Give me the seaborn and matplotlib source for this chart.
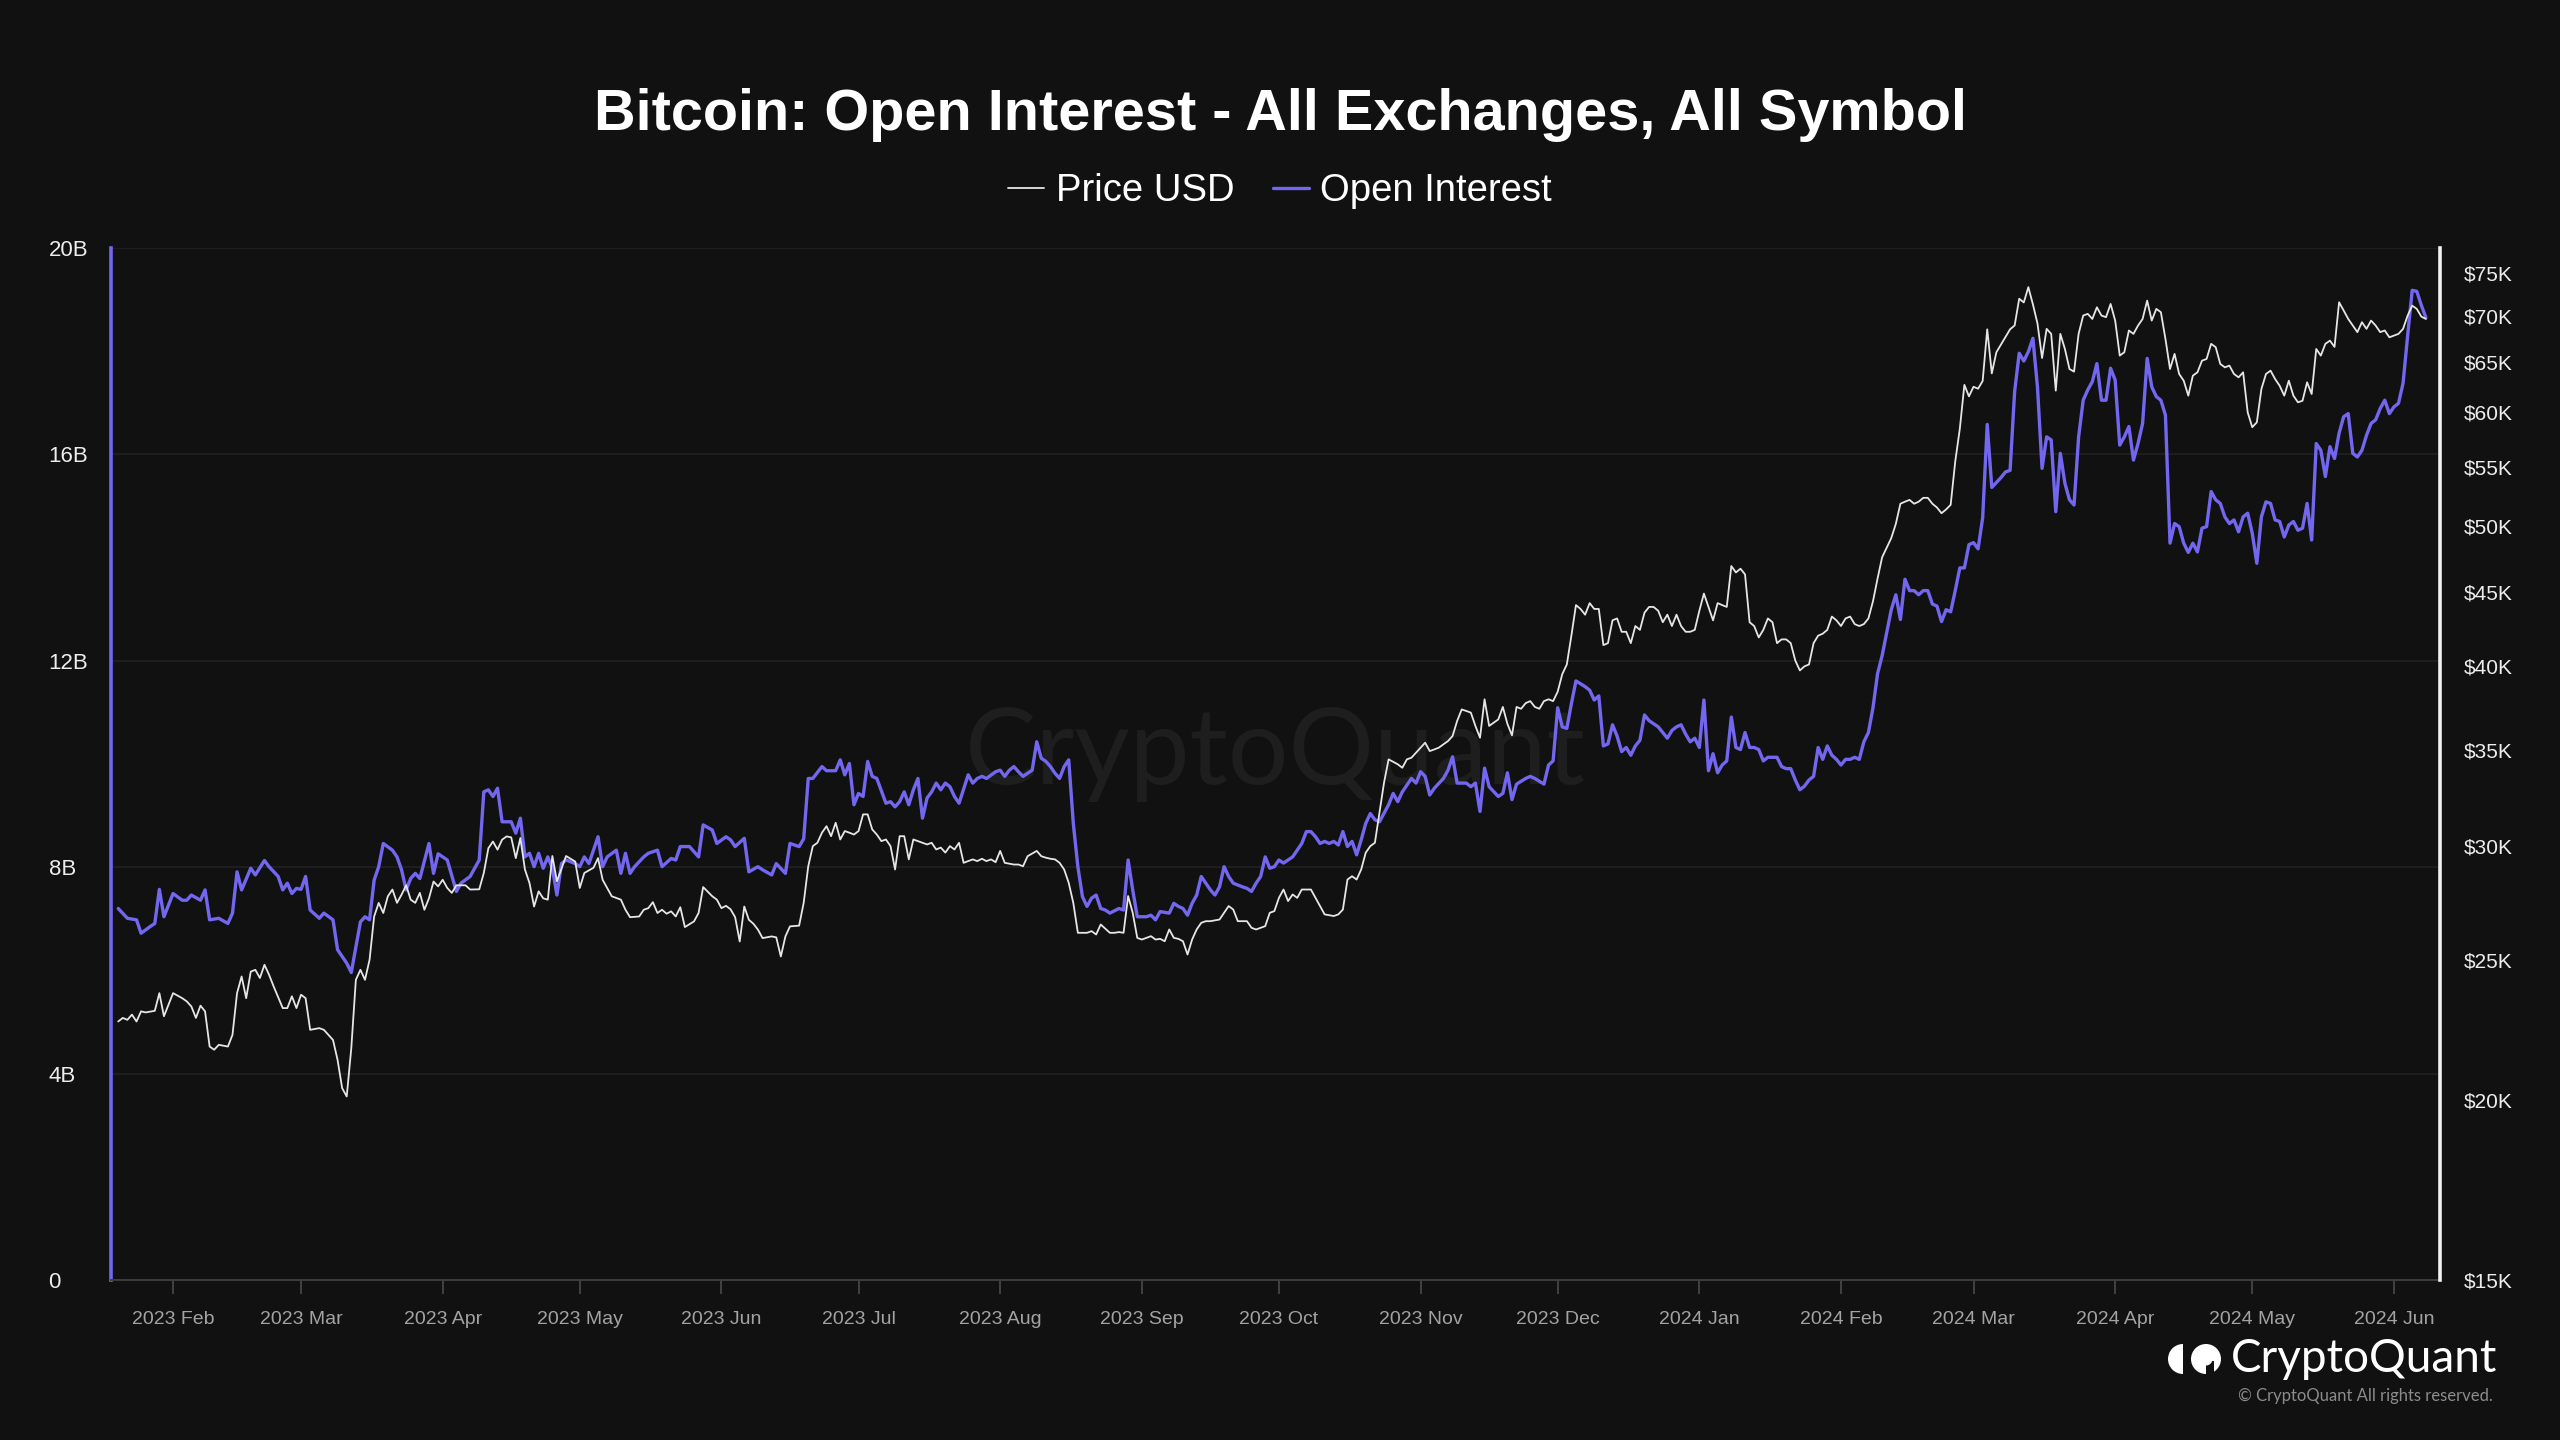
import numpy as np
import pandas as pd
import matplotlib
matplotlib.use("Agg")
import matplotlib.pyplot as plt
import matplotlib.ticker as mticker
import matplotlib.dates as mdates
from matplotlib.patches import Wedge, Circle, Rectangle
import seaborn as sns

# ---------------- data ----------------
BASE_DATE = "2023-02-01"          # day offsets below are days since this date
TITLE = "Bitcoin: Open Interest - All Exchanges, All Symbol"
SERIES_NAMES = ["Price USD", "Open Interest"]
OI_TICKS = [0, 4, 8, 12, 16, 20]                      # billions
PRICE_TICKS = [15, 20, 25, 30, 35, 40, 45, 50, 55, 60, 65, 70, 75]   # thousand USD

# Open interest (day offset, billions USD)
oi_points = [
    (-12,7.20),(-10,7.01),(-8,6.98),(-7,6.72),(-5,6.85),(-4,6.91),(-3,7.57),(-2,7.04),(0,7.49),(2,7.36),
    (3,7.36),(4,7.46),(6,7.36),(7,7.56),(8,6.98),(10,7.01),(12,6.91),(13,7.11),(14,7.91),(15,7.56),
    (17,7.98),(18,7.85),(20,8.13),(21,8.01),(23,7.82),(24,7.56),(25,7.69),(26,7.49),(27,7.59),(28,7.57),
    (29,7.82),(30,7.17),(32,7.01),(33,7.11),(35,6.98),(36,6.40),(38,6.14),(39,5.96),(41,6.94),(42,7.04),
    (43,6.98),(44,7.75),(45,8.01),(46,8.46),(48,8.33),(49,8.20),(50,7.95),(51,7.56),(52,7.78),(53,7.88),
    (54,7.78),(56,8.46),(57,7.88),(58,8.26),(60,8.14),(62,7.53),(63,7.69),(65,7.82),(66,7.98),(67,8.14),
    (68,9.46),(69,9.50),(70,9.37),(71,9.53),(72,8.88),(74,8.88),(75,8.66),(76,8.95),(77,8.20),(78,8.27),
    (79,8.01),(80,8.27),(81,7.98),(82,8.20),(83,7.98),(84,7.46),(85,8.07),(86,8.14),(88,8.07),(89,8.01),
    (90,8.20),(91,8.07),(93,8.59),(94,8.01),(95,8.20),(97,8.33),(98,7.88),(99,8.27),(100,7.88),(101,8.01),
    (103,8.20),(104,8.27),(106,8.33),(107,8.01),(109,8.17),(110,8.14),(111,8.40),(113,8.40),(115,8.20),(116,8.82),
    (118,8.72),(119,8.46),(121,8.59),(122,8.53),(123,8.40),(125,8.56),(126,7.91),(128,8.01),(129,7.95),(131,7.85),
    (132,8.07),(134,7.88),(135,8.46),(137,8.40),(138,8.55),(139,9.72),(140,9.72),(142,9.95),(143,9.87),(145,9.87),
    (146,10.08),(147,9.79),(148,10.01),(149,9.21),(150,9.43),(151,9.37),(152,10.05),(153,9.76),(154,9.72),(156,9.24),
    (157,9.27),(158,9.17),(159,9.27),(160,9.46),(161,9.21),(162,9.50),(163,9.72),(164,8.95),(165,9.34),(166,9.46),
    (167,9.63),(168,9.50),(169,9.63),(170,9.56),(171,9.37),(172,9.24),(174,9.79),(175,9.63),(176,9.72),(177,9.76),
    (178,9.72),(180,9.85),(181,9.88),(182,9.76),(183,9.88),(184,9.95),(185,9.85),(186,9.76),(188,9.88),(189,10.43),
    (190,10.11),(191,10.05),(192,9.95),(193,9.82),(194,9.72),(195,9.95),(196,10.08),(197,8.85),(198,8.01),(199,7.43),
    (200,7.24),(201,7.40),(202,7.46),(203,7.20),(204,7.17),(205,7.11),(207,7.20),(208,7.17),(209,8.14),(210,7.56),
    (211,7.04),(213,7.04),(214,7.07),(215,6.98),(216,7.14),(218,7.11),(219,7.30),(220,7.24),(221,7.20),(222,7.07),
    (223,7.30),(224,7.46),(225,7.82),(227,7.56),(228,7.46),(229,7.62),(230,8.01),(231,7.82),(232,7.69),(234,7.62),
    (235,7.59),(236,7.53),(237,7.69),(238,7.82),(239,8.20),(240,7.98),(241,8.01),(242,8.14),(243,8.08),(245,8.20),
    (246,8.33),(247,8.46),(248,8.69),(249,8.69),(250,8.59),(251,8.46),(252,8.50),(253,8.46),(254,8.50),(255,8.43),
    (256,8.69),(257,8.40),(258,8.50),(259,8.24),(260,8.53),(261,8.85),(262,9.04),(263,8.92),(264,8.88),(266,9.21),
    (267,9.43),(268,9.27),(269,9.46),(271,9.72),(272,9.63),(273,9.85),(274,9.76),(275,9.40),(276,9.53),(278,9.72),
    (279,9.88),(280,10.14),(281,9.63),(283,9.63),(284,9.56),(285,9.63),(286,9.08),(287,9.92),(288,9.56),(290,9.37),
    (291,9.43),(292,9.83),(293,9.31),(294,9.61),(296,9.72),(297,9.76),(298,9.72),(300,9.61),(301,9.98),(302,10.06),
    (303,11.09),(304,10.72),(305,10.69),(306,11.17),(307,11.61),(309,11.50),(310,11.43),(311,11.24),(312,11.32),(313,10.35),
    (314,10.39),(315,10.76),(316,10.54),(317,10.24),(318,10.32),(319,10.17),(320,10.35),(321,10.46),(322,10.95),(323,10.84),
    (325,10.72),(326,10.61),(327,10.50),(328,10.65),(329,10.72),(330,10.76),(331,10.58),(332,10.43),(333,10.50),(334,10.32),
    (335,11.24),(336,9.87),(337,10.20),(338,9.83),(339,9.98),(340,10.06),(341,10.91),(342,10.32),(343,10.28),(344,10.61),
    (345,10.32),(346,10.32),(347,10.28),(348,10.06),(349,10.13),(351,10.13),(352,9.95),(353,9.91),(354,9.91),(355,9.69),
    (356,9.50),(357,9.57),(358,9.69),(359,9.76),(360,10.32),(361,10.09),(362,10.35),(363,10.17),(364,10.09),(365,9.98),
    (366,10.09),(367,10.09),(368,10.13),(369,10.09),(370,10.43),(371,10.61),(372,11.09),(373,11.75),(374,12.10),(375,12.54),
    (376,12.99),(377,13.28),(378,12.80),(379,13.58),(380,13.36),(381,13.36),(382,13.28),(383,13.36),(384,13.36),(385,13.10),
    (386,13.06),(387,12.76),(388,12.99),(389,12.95),(390,13.36),(391,13.80),(392,13.80),(393,14.25),(394,14.29),(395,14.17),
    (396,14.77),(397,16.58),(398,15.36),(400,15.55),(401,15.66),(402,15.69),(403,17.22),(404,17.96),(405,17.81),(406,17.99),
    (407,18.25),(408,17.30),(409,15.73),(410,16.34),(411,16.28),(412,14.89),(413,16.02),(414,15.44),(415,15.12),(416,15.02),
    (417,16.34),(418,17.05),(419,17.25),(420,17.41),(421,17.76),(422,17.05),(423,17.05),(424,17.67),(425,17.44),(426,16.18),
    (427,16.34),(428,16.54),(429,15.89),(430,16.21),(431,16.60),(432,17.86),(433,17.31),(434,17.12),(435,17.05),(436,16.76),
    (437,14.28),(438,14.66),(439,14.60),(440,14.28),(441,14.10),(442,14.28),(443,14.11),(444,14.57),(445,14.60),(446,15.28),
    (447,15.12),(448,15.05),(449,14.79),(450,14.66),(451,14.73),(452,14.50),(453,14.79),(454,14.86),(455,14.47),(456,13.89),
    (457,14.79),(458,15.08),(459,15.05),(460,14.73),(461,14.70),(462,14.40),(463,14.63),(464,14.70),(465,14.53),(466,14.57),
    (467,15.05),(468,14.34),(469,16.21),(470,16.08),(471,15.57),(472,16.15),(473,15.92),(474,16.41),(475,16.73),(476,16.79),
    (477,16.02),(478,15.95),(479,16.08),(480,16.37),(481,16.60),(482,16.67),(483,16.89),(484,17.05),(485,16.79),(486,16.92),
    (487,16.99),(488,17.38),(489,18.30),(490,19.18),(491,19.16),(492,18.89),(493,18.65),
]

# BTC price (day offset, thousand USD)
price_points = [
    (-12,22.67),(-11,22.80),(-10,22.73),(-9,22.92),(-8,22.67),(-7,23.04),(-6,23.00),(-4,23.06),(-3,23.72),(-2,22.86),
    (-1,23.29),(0,23.72),(2,23.53),(3,23.41),(4,23.22),(5,22.80),(6,23.25),(7,23.04),(8,21.78),(9,21.67),
    (10,21.84),(12,21.78),(13,22.19),(14,23.72),(15,24.36),(16,23.53),(17,24.55),(18,24.62),(19,24.30),(20,24.82),
    (21,24.43),(22,23.98),(24,23.16),(25,23.16),(26,23.60),(27,23.16),(28,23.66),(29,23.53),(30,22.37),(32,22.43),
    (33,22.37),(35,22.01),(36,21.32),(37,20.38),(38,20.11),(39,21.72),(40,24.23),(41,24.62),(42,24.23),(43,25.02),
    (44,26.81),(45,27.40),(46,26.96),(47,27.69),(48,27.99),(49,27.40),(50,27.76),(51,28.18),(52,27.54),(53,27.40),
    (54,27.84),(55,27.10),(56,27.60),(57,28.35),(58,28.13),(59,28.43),(60,28.06),(61,27.84),(62,28.18),(64,28.18),
    (65,27.99),(67,28.00),(68,28.74),(69,29.90),(70,30.22),(71,29.83),(72,30.31),(73,30.47),(74,30.42),(75,29.43),
    (76,30.39),(77,28.90),(78,28.28),(79,27.24),(80,27.91),(81,27.60),(82,27.54),(83,29.53),(84,28.36),(86,29.53),
    (88,29.27),(89,28.06),(90,28.74),(92,28.98),(93,29.43),(94,28.43),(96,27.69),(98,27.54),(99,27.10),(100,26.78),
    (102,26.81),(103,27.10),(104,27.17),(105,27.43),(106,26.96),(107,27.10),(108,26.93),(109,27.03),(110,26.81),(111,27.21),
    (112,26.36),(114,26.60),(115,26.96),(116,28.10),(118,27.69),(119,27.54),(120,27.17),(121,27.27),(122,27.12),(123,26.78),
    (124,25.76),(125,27.24),(126,26.67),(127,26.50),(128,26.25),(129,25.90),(131,25.97),(132,25.93),(133,25.15),(134,25.97),
    (135,26.39),(137,26.42),(138,27.40),(139,29.05),(140,30.00),(141,30.16),(142,30.65),(143,30.97),(144,30.48),(145,31.14),
    (146,30.32),(147,30.73),(148,30.65),(149,30.56),(150,30.73),(151,31.56),(152,31.56),(153,30.81),(154,30.56),(155,30.24),
    (156,30.32),(157,30.00),(158,28.90),(159,30.48),(160,30.48),(161,29.37),(162,30.32),(164,30.16),(165,30.08),(166,30.16),
    (167,29.84),(168,29.93),(169,29.69),(170,30.00),(171,29.84),(172,30.16),(173,29.21),(175,29.37),(176,29.29),(177,29.40),
    (178,29.29),(179,29.37),(180,29.24),(181,29.77),(182,29.21),(184,29.13),(185,29.13),(186,29.05),(187,29.52),(189,29.77),
    (190,29.52),(191,29.45),(192,29.40),(193,29.37),(194,29.21),(195,28.90),(196,28.29),(197,27.40),(198,26.12),(200,26.12),
    (201,26.19),(202,26.05),(203,26.47),(205,26.12),(206,26.12),(207,26.15),(208,26.12),(209,27.70),(210,26.97),(211,25.91),
    (212,25.84),(214,25.98),(215,25.84),(216,25.87),(217,25.77),(218,26.26),(219,25.91),(220,25.87),(221,25.77),(222,25.23),
    (223,25.84),(224,26.26),(225,26.54),(226,26.61),(227,26.61),(229,26.68),(230,26.97),(231,27.26),(232,27.11),(233,26.61),
    (234,26.61),(235,26.61),(236,26.33),(237,26.26),(238,26.33),(239,26.40),(240,26.97),(241,27.04),(242,27.62),(243,27.99),
    (244,27.48),(245,27.77),(246,27.62),(247,27.99),(248,27.99),(249,27.99),(250,27.62),(251,27.26),(252,26.90),(254,26.83),
    (255,26.90),(256,27.11),(257,28.44),(258,28.59),(259,28.44),(260,28.90),(261,29.69),(262,30.00),(263,30.16),(264,31.64),
    (265,33.20),(266,34.46),(268,34.19),(269,34.00),(270,34.46),(271,34.55),(272,34.83),(274,35.39),(275,34.92),(276,35.01),
    (277,35.11),(278,35.30),(279,35.48),(280,35.77),(281,36.64),(282,37.32),(283,37.23),(284,37.13),(285,36.35),(286,35.67),
    (287,37.93),(288,36.35),(289,36.54),(290,36.73),(291,37.47),(292,36.47),(293,35.81),(294,37.47),(295,37.36),(296,37.70),
    (297,37.82),(298,37.47),(299,37.36),(300,37.82),(301,37.93),(302,37.82),(303,38.39),(304,39.48),(305,40.10),(306,41.99),
    (307,44.09),(308,43.82),(309,43.42),(310,44.23),(311,43.82),(312,43.82),(313,41.36),(314,41.49),(315,43.03),(316,43.16),
    (317,42.25),(318,42.25),(319,41.49),(320,42.64),(321,42.38),(322,43.56),(323,43.96),(324,43.96),(325,43.69),(326,42.90),
    (327,43.42),(328,42.64),(329,43.42),(330,42.64),(331,42.25),(332,42.25),(333,42.38),(334,43.69),(335,44.91),(336,43.96),
    (337,43.03),(338,44.23),(339,44.09),(340,43.96),(341,46.93),(342,46.45),(343,46.73),(344,46.31),(345,42.90),(346,42.64),
    (347,41.87),(348,42.38),(349,43.16),(350,42.90),(351,41.49),(352,41.74),(353,41.74),(354,41.49),(355,40.35),(356,39.72),
    (357,39.98),(358,40.10),(359,41.49),(360,41.99),(361,42.12),(362,42.38),(363,43.29),(364,43.03),(365,42.64),(366,43.16),
    (367,43.29),(368,42.77),(369,42.64),(370,42.77),(371,43.16),(372,44.36),(373,46.00),(374,47.59),(375,48.33),(376,49.07),
    (377,50.20),(378,51.84),(379,52.01),(380,52.16),(381,51.84),(382,52.01),(383,52.33),(384,52.33),(385,51.84),(386,51.53),
    (387,51.06),(388,51.37),(389,51.75),(390,55.46),(391,58.43),(392,62.68),(393,61.54),(394,62.49),(395,62.30),(396,63.07),
    (397,68.50),(398,63.84),(399,66.03),(400,66.84),(401,67.67),(402,68.50),(403,68.92),(404,71.93),(405,71.50),(406,73.27),
    (407,71.28),(408,69.13),(409,65.43),(410,68.55),(411,68.00),(412,62.10),(413,68.00),(414,66.38),(415,64.29),(416,64.02),
    (417,68.00),(418,70.02),(419,70.21),(420,69.64),(421,70.95),(422,70.02),(423,69.84),(424,71.33),(425,69.46),(426,65.68),
    (427,66.03),(428,68.37),(429,68.00),(430,68.91),(431,69.64),(432,71.71),(433,69.46),(434,70.77),(435,70.40),(436,67.46),
    (437,64.29),(438,65.86),(439,63.78),(440,63.10),(441,61.61),(442,63.61),(443,63.95),(444,65.15),(445,65.33),(446,66.93),
    (447,66.57),(448,64.81),(449,64.46),(450,64.64),(451,63.78),(452,63.44),(453,63.95),(454,59.98),(455,58.58),(456,59.04),
    (457,62.27),(458,63.78),(459,64.12),(460,63.27),(461,62.59),(462,61.61),(463,63.10),(464,61.61),(465,60.96),(466,61.11),
    (467,62.94),(468,61.77),(469,66.38),(470,65.68),(471,66.93),(472,67.27),(473,66.60),(474,71.52),(475,70.59),(476,69.64),
    (477,68.91),(478,68.19),(479,69.28),(480,68.55),(481,69.46),(482,68.91),(483,68.19),(484,68.37),(485,67.63),(486,67.82),
    (487,68.00),(488,68.55),(489,70.02),(490,71.14),(491,70.77),(492,69.90),(493,69.64),
]

# ---------------- style ----------------
BG = "#111111"
PURPLE = "#7367F0"
PRICE_COL = "#E6E6E6"

sns.set_theme(style="dark")
plt.rcParams["font.family"] = ["Liberation Sans", "DejaVu Sans"]
plt.rcParams["axes.facecolor"] = BG
plt.rcParams["figure.facecolor"] = BG

base = pd.Timestamp(BASE_DATE)
oi_df = pd.DataFrame(oi_points, columns=["day", "oi"])
oi_df["date"] = base + pd.to_timedelta(oi_df["day"], unit="D")
pr_df = pd.DataFrame(price_points, columns=["day", "price_k"])
pr_df["date"] = base + pd.to_timedelta(pr_df["day"], unit="D")
pr_df["price"] = pr_df["price_k"] * 1000.0

W, H = 2560, 1440
fig = plt.figure(figsize=(W / 100, H / 100), dpi=100, facecolor=BG)
L, R, T, B = 111, 2440, 248, 1280
ax = fig.add_axes([L / W, 1 - B / H, (R - L) / W, (B - T) / H])
ax.set_facecolor(BG)
ax2 = ax.twinx()
ax2.patch.set_visible(False)

# watermark
ax.text(0.5, 0.51, "CryptoQuant", transform=ax.transAxes, ha="center", va="center",
        fontsize=77, color="#1e1e1e", family=["Lato", "DejaVu Sans"], zorder=0)

sns.lineplot(data=oi_df, x="date", y="oi", ax=ax, color=PURPLE, linewidth=2.4, zorder=3)
sns.lineplot(data=pr_df, x="date", y="price", ax=ax2, color=PRICE_COL, linewidth=1.3, zorder=4)

# x axis
ax.set_xlim(pd.Timestamp("2023-01-18 10:00"), pd.Timestamp("2024-06-11 02:00"))
ax.xaxis.set_major_locator(mdates.MonthLocator())
ax.xaxis.set_major_formatter(mdates.DateFormatter("%Y %b"))
ax.tick_params(axis="x", colors="#4a4a4a", labelcolor="#a3a3a3", labelsize=14,
               length=10, width=1.2, pad=12, direction="out", bottom=True)

# left axis (open interest)
ax.set_ylim(0, 20)
ax.set_yticks(OI_TICKS)
ax.yaxis.set_major_formatter(mticker.FuncFormatter(lambda v, p: "0" if v == 0 else f"{v:g}B"))
ax.tick_params(axis="y", length=0, labelsize=16, labelcolor="#EDEDED", pad=45, left=True)
for lbl in ax.get_yticklabels():
    lbl.set_horizontalalignment("left")
ax.grid(axis="y", color="#232323", linewidth=1.1)
ax.grid(axis="x", visible=False)
ax.set_axisbelow(True)

# right axis (price, log scale)
ax2.set_yscale("log")
ax2.set_ylim(15000, 78000)
ax2.yaxis.set_major_locator(mticker.FixedLocator([t * 1000 for t in PRICE_TICKS]))
ax2.yaxis.set_major_formatter(mticker.FuncFormatter(lambda v, p: f"${v / 1000:.0f}K"))
ax2.yaxis.set_minor_locator(mticker.NullLocator())
ax2.tick_params(axis="y", length=0, labelsize=15, labelcolor="#EDEDED", pad=17, right=True)
ax2.grid(False)

for a in (ax, ax2):
    a.set_xlabel("")
    a.set_ylabel("")

ax.spines["top"].set_visible(False)
ax.spines["right"].set_visible(False)
ax.spines["left"].set_color(PURPLE)
ax.spines["left"].set_linewidth(2.6)
ax.spines["bottom"].set_color("#3d3d3d")
ax.spines["bottom"].set_linewidth(1.4)
for s in ("top", "left", "bottom"):
    ax2.spines[s].set_visible(False)
ax2.spines["right"].set_color("#F2F2F2")
ax2.spines["right"].set_linewidth(2.6)

# title and legend
fig.text(0.5, 1 - 115 / H, TITLE, ha="center", va="center", fontsize=41.5,
         fontweight="bold", color="white")
handles = [ax2.lines[0], ax.lines[0]]
fig.legend(handles, SERIES_NAMES, loc="center", bbox_to_anchor=(0.5, 1 - 191 / H), ncol=2,
           frameon=False, fontsize=27.5, labelcolor="white", handlelength=0.95,
           handletextpad=0.3, columnspacing=1.0)

# brand logo (bottom right)
icon = fig.add_axes([2166 / W, 1 - 1374 / H, 56 / W, 30 / H])
icon.set_xlim(0, 56)
icon.set_ylim(0, 30)
icon.axis("off")
icon.add_patch(Wedge((17, 15), 15, 90, 270, color="white", lw=0))
icon.add_patch(Circle((40, 15), 15, color="white", lw=0))
icon.add_patch(Rectangle((40, 0), 8, 13, color=BG, lw=0))
icon.add_patch(Wedge((40, 15), 6.5, 0, 360, color="white", lw=0))

fig.text(2231 / W, 1 - 1359 / H, "CryptoQuant", ha="left", va="center", fontsize=33,
         color="white", family=["Lato", "DejaVu Sans"])
fig.text(2493 / W, 1 - 1396 / H, "\u00a9 CryptoQuant All rights reserved.", ha="right",
         va="center", fontsize=12, color="#8c8c8c", family=["Lato", "DejaVu Sans"])

fig.savefig("out.png", dpi=100, facecolor=BG)
